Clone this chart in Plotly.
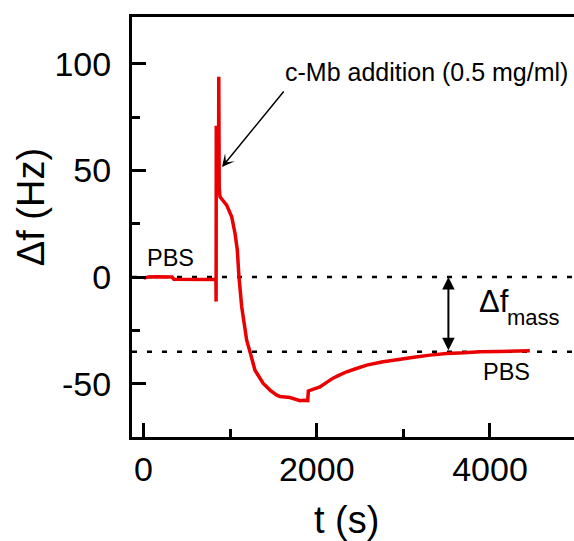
import plotly.graph_objects as go

# QCM frequency shift trace: time (s) and Δf (Hz)
t_s = [0, 60, 150, 250, 330, 350, 500, 700, 836, 838, 840, 846, 866, 869, 874, 883,
       920, 960, 1018, 1056, 1083, 1102, 1134, 1191, 1229, 1287, 1380, 1460, 1538,
       1576, 1691, 1760, 1807, 1850, 1884, 1896, 1903, 1960, 2037, 2110, 2188, 2260,
       2346, 2450, 2577, 2750, 2923, 3100, 3307, 3500, 3700, 3885, 4100, 4300, 4460]
df_hz = [-0.5, 0.1, 0.2, 0.1, 0.0, -1.0, -1.0, -1.1, -1.1, -11.5, 71.0, 45.0, 45.0, 94.0, 42.0, 37.7,
         36.0, 33.8, 28.3, 20.6, 12.7, 0.1, -14.0, -29.6, -35.0, -43.7, -49.8, -53.0, -55.4,
         -56.0, -56.5, -57.3, -58.0, -57.8, -57.7, -57.9, -53.4, -52.6, -51.5, -49.5, -47.4, -46.0,
         -44.4, -43.0, -41.3, -39.8, -38.6, -37.7, -36.6, -35.8, -35.5, -35.0, -34.9, -34.7, -34.6]

baseline_levels = [0, -35]
mass_arrow_t = 3520
injection_tip = (906, 51.6)
injection_tail = (1633, 87.8)

x_ticks = [0, 2000, 4000]
x_ticklabels = ["0", "2000", "4000"]
y_ticks = [-50, 0, 50, 100]
y_ticklabels = ["-50", "0", "50", "100"]
x_range = [-133, 4970]
y_range = [-75, 122]

FONT = "Liberation Sans, Arial, sans-serif"
RED = "rgb(234,0,0)"

fig = go.Figure()
fig.add_trace(go.Scatter(x=t_s, y=df_hz, mode="lines",
                         line=dict(color=RED, width=3.5), showlegend=False))

for lvl in baseline_levels:
    fig.add_shape(type="line", xref="paper", x0=0, x1=1, yref="y", y0=lvl, y1=lvl,
                  line=dict(color="black", width=2.5, dash="5px,10px"), layer="below")


def label(x, y, text, size, **kw):
    d = dict(x=x, y=y, xref="x", yref="y", text=text, showarrow=False,
             xanchor="center", yanchor="middle",
             font=dict(family=FONT, size=size, color="black"))
    d.update(kw)
    return d


ann = []
# injection arrow
ann.append(dict(x=injection_tip[0], y=injection_tip[1], ax=injection_tail[0], ay=injection_tail[1],
                xref="x", yref="y", axref="x", ayref="y", text="", showarrow=True,
                arrowhead=3, arrowsize=1.4, arrowwidth=1.5, arrowcolor="black"))
ann.append(label(3267, 96.2, "c-Mb addition (0.5 mg/ml)", 25))
# mass-loading double arrow
ann.append(dict(x=mass_arrow_t, y=baseline_levels[0], ax=mass_arrow_t, ay=baseline_levels[1],
                xref="x", yref="y", axref="x", ayref="y", text="", showarrow=True,
                arrowhead=2, arrowside="end+start", arrowsize=1.25, arrowwidth=2,
                arrowcolor="black"))
ann.append(label(4050, -11.3, "Δf", 31))
ann.append(label(4508, -18.8, "mass", 22))
ann.append(label(317, 8.9, "PBS", 23.5))
ann.append(label(4196, -44.4, "PBS", 23.5))
# axis titles
ann.append(label(0.486, -0.198, "t (s)", 38, xref="paper", yref="paper"))
ann.append(label(-0.230, 0.548, "Δf (Hz)", 38, xref="paper", yref="paper", textangle=-90))

axis_common = dict(showline=True, linecolor="black", linewidth=3, ticks="inside",
                   ticklen=14, tickwidth=3, tickcolor="black", showgrid=False, zeroline=False,
                   tickfont=dict(family=FONT, size=34, color="black"))

fig.update_layout(
    width=574, height=541,
    margin=dict(l=132, r=0, t=17, b=104),
    paper_bgcolor="white", plot_bgcolor="white",
    annotations=ann,
    xaxis=dict(range=x_range, tickvals=x_ticks, ticktext=x_ticklabels, mirror=True,
               ticklabelstandoff=0,
               minor=dict(ticks="inside", ticklen=8, tickwidth=3, tickcolor="black", dtick=1000,
                          tick0=0, showgrid=False),
               **axis_common),
    yaxis=dict(range=y_range, tickvals=y_ticks, ticktext=y_ticklabels, ticklabelstandoff=11,
               minor=dict(ticks="inside", ticklen=8, tickwidth=3, tickcolor="black", dtick=25,
                          tick0=0, showgrid=False),
               **axis_common),
)

fig.write_html("out.html")
